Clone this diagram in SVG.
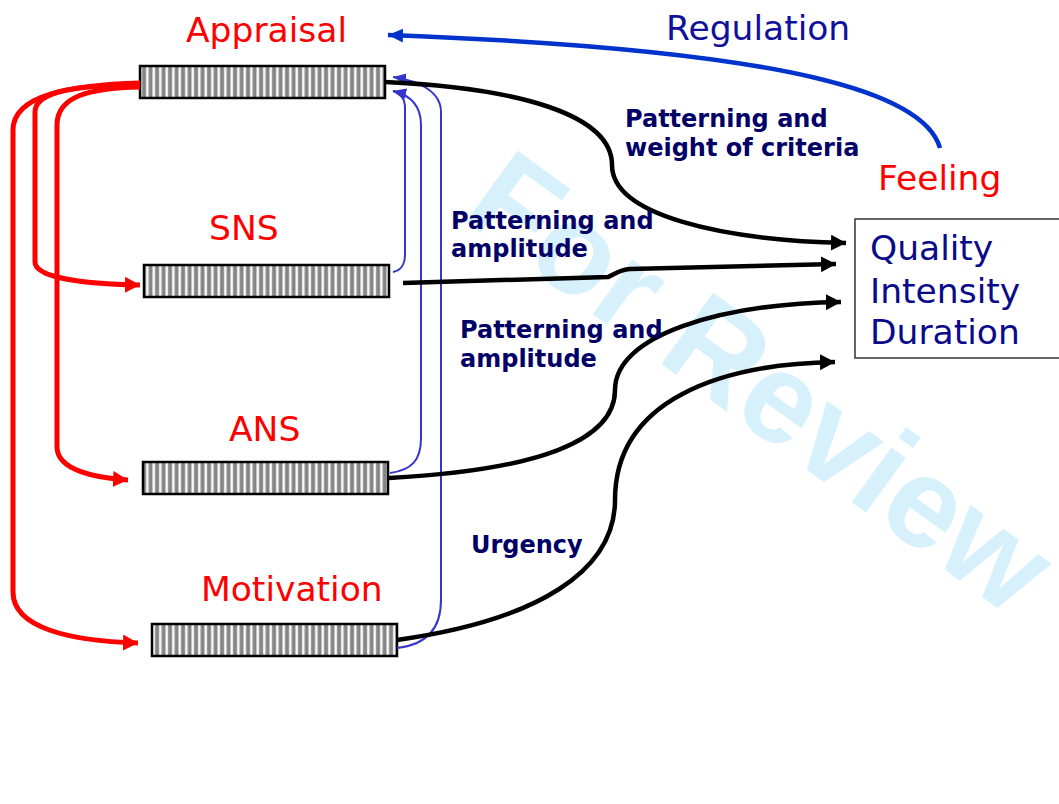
<svg xmlns="http://www.w3.org/2000/svg" width="1059" height="804" viewBox="0 0 1059 804">
<style>
.lbl{font-family:"DejaVu Sans",Verdana,sans-serif;font-size:34.5px}
.red{fill:#ff0000}
.navy{fill:#0a0a8a}
.bold{font-family:"DejaVu Sans",Verdana,sans-serif;font-weight:bold;font-size:24px;fill:#000066}
.bar{fill:url(#stripes);stroke:#000;stroke-width:2.5}
.blk{fill:none;stroke:#000;stroke-width:4.5;marker-end:url(#ab)}
.redc{fill:none;stroke:#ff0000;stroke-width:5;marker-end:url(#ar)}
.bluet{fill:none;stroke:#3535cc;stroke-width:2;marker-end:url(#abt)}
.wm{font-family:"Liberation Sans",Arial,sans-serif;font-weight:bold;font-size:128px;fill:#d6f0fc}
</style>
<defs>
<pattern id="stripes" patternUnits="userSpaceOnUse" width="6.5" height="10">
<rect width="6.5" height="10" fill="#858585"/>
<rect x="2.8" width="3" height="10" fill="#cfcfcf"/>
<rect x="3.5" width="1.6" height="10" fill="#ffffff"/>
</pattern>
<marker id="ab" markerUnits="userSpaceOnUse" markerWidth="16" markerHeight="17" refX="15" refY="8" orient="auto" viewBox="0 0 16 17">
<path d="M0,0 L15,8 L0,16 z" fill="#000"/>
</marker>
<marker id="ar" markerUnits="userSpaceOnUse" markerWidth="16" markerHeight="17" refX="15" refY="8" orient="auto" viewBox="0 0 16 17">
<path d="M0,0 L15,8 L0,16 z" fill="#ff0000"/>
</marker>
<marker id="abl" markerUnits="userSpaceOnUse" markerWidth="16" markerHeight="15" refX="15" refY="7" orient="auto" viewBox="0 0 16 15">
<path d="M0,0 L15,7 L0,14 z" fill="#0033cc"/>
</marker>
<marker id="abt" markerUnits="userSpaceOnUse" markerWidth="14" markerHeight="12" refX="13" refY="5.5" orient="auto" viewBox="0 0 14 12">
<path d="M0,0 L13,5.5 L0,11 z" fill="#3535cc"/>
</marker>
</defs>
<rect width="1059" height="804" fill="#fff"/>
<text class="wm" transform="translate(459,217) rotate(36)">For Review</text>

<g id="appraisal">
<rect class="bar" x="140" y="66" width="245" height="32"/>
<text class="lbl red" x="186" y="42">Appraisal</text>
</g>
<g id="sns">
<rect class="bar" x="144" y="265" width="245" height="32"/>
<text class="lbl red" x="209" y="240">SNS</text>
</g>
<g id="ans">
<rect class="bar" x="143" y="462" width="245" height="32"/>
<text class="lbl red" x="229" y="441">ANS</text>
</g>
<g id="motivation">
<rect class="bar" x="152" y="624" width="245" height="32"/>
<text class="lbl red" x="201" y="601">Motivation</text>
</g>
<g id="feeling">
<rect x="855" y="219" width="220" height="139" fill="#fff" stroke="#333" stroke-width="1.5"/>
<text class="lbl navy" x="870" y="260">Quality</text>
<text class="lbl navy" x="870" y="303">Intensity</text>
<text class="lbl navy" x="870" y="344">Duration</text>
<text class="lbl red" x="878" y="190">Feeling</text>
</g>

<g id="connectors">
<path class="redc" d="M140,83 C70,85 13,95 13,130 L13,592 C13,628 70,641 138,643"/>
<path class="redc" d="M140,84 C80,86 35,90 35,112 L35,262 C35,277 80,284 140,285"/>
<path class="redc" d="M140,87 C90,88 57,96 57,125 L57,447 C57,470 95,478 128,480"/>

<path class="bluet" d="M393,272 C402,270 405,264 405,254 L405,108 C405,98 400,93 393,91"/>
<path class="bluet" d="M390,473 C412,470 421,460 421,438 L421,125 C421,105 410,95 393,91"/>
<path class="bluet" d="M397,648 C425,645 441,630 441,600 L441,112 C441,92 420,81 393,77"/>

<path class="blk" d="M385,82 C520,88 612,115 612,165 C612,215 720,240 846,243"/>
<path class="blk" d="M403,283 L608,277 C614,275 618,270 630,269 L836,264"/>
<path class="blk" d="M389,478 C540,470 615,440 615,390 C615,335 720,304 841,302"/>
<path class="blk" d="M397,640 C540,620 615,570 615,500 C615,400 720,364 835,362"/>

<path d="M940,148 C925,95 800,50 388,35" fill="none" stroke="#0033cc" stroke-width="4.5" marker-end="url(#abl)"/>
</g>

<g id="labels">
<text class="lbl" x="666" y="40" fill="#10109a">Regulation</text>
<text class="bold" x="625" y="127">Patterning and</text>
<text class="bold" x="625" y="156">weight of criteria</text>
<text class="bold" x="451" y="229">Patterning and</text>
<text class="bold" x="451" y="257">amplitude</text>
<text class="bold" x="460" y="338">Patterning and</text>
<text class="bold" x="460" y="367">amplitude</text>
<text class="bold" x="471" y="553">Urgency</text>
</g>
</svg>
